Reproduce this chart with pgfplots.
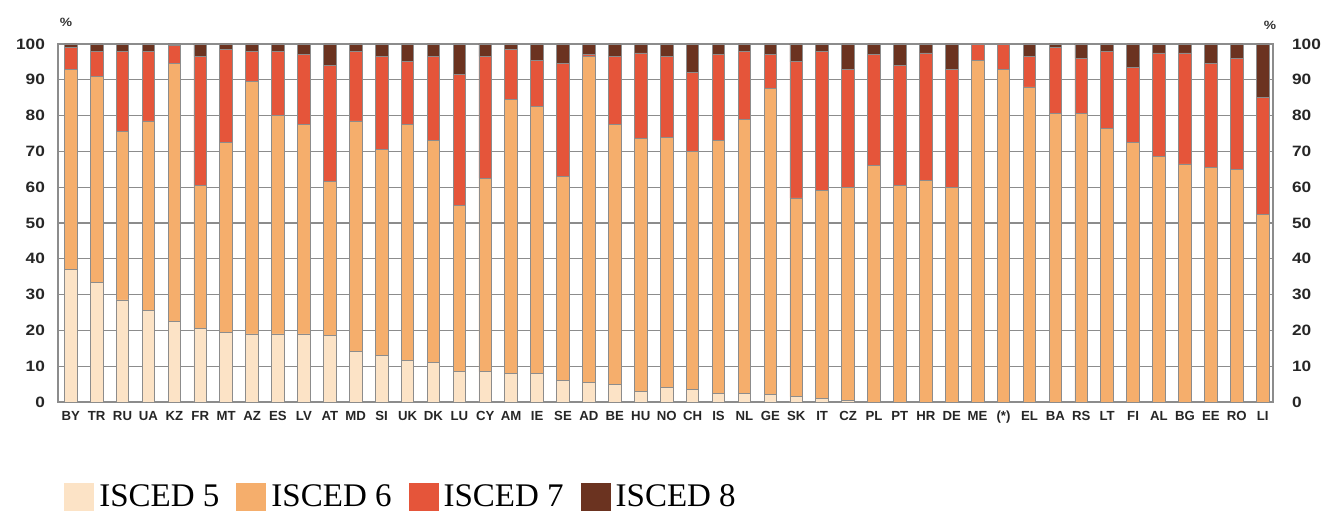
\documentclass[border=0pt]{standalone}
\usepackage{fontspec}
\setmainfont{Liberation Serif}
\newfontfamily\tickfont[FakeStretch=1.15]{Liberation Sans}
\newfontfamily\xtickfont{Liberation Sans}
\usepackage{pgfplots}
\usepackage{pgfplotstable}
\pgfplotsset{compat=1.18}

\definecolor{iscedA}{HTML}{FCE3C6}
\definecolor{iscedB}{HTML}{F5AE6C}
\definecolor{iscedC}{HTML}{E5553A}
\definecolor{iscedD}{HTML}{6B3320}
\definecolor{gridc}{HTML}{8C8C8C}

% share of graduates by ISCED level (%), cumulative 100
\pgfplotstableread{
idx lab c5 c6 c7 c8
0  BY 37 56 6 1
1  TR 33.5 57.5 7 2
2  RU 28.5 47 22.5 2
3  UA 25.5 53 19.5 2
4  KZ 22.5 72 5 0.5
5  FR 20.5 40 36 3.5
6  MT 19.5 53 26 1.5
7  AZ 19 70.5 8.5 2
8  ES 19 61 18 2
9  LV 19 58.5 19.5 3
10 AT 18.5 43 32.5 6
11 MD 14 64.5 19.5 2
12 SI 13 57.5 26 3.5
13 UK 11.5 66 17.5 5
14 DK 11 62 23.5 3.5
15 LU 8.5 46.5 36.5 8.5
16 CY 8.5 54 34 3.5
17 AM 8 76.5 14 1.5
18 IE 8 74.5 13 4.5
19 SE 6 57 31.5 5.5
20 AD 5.5 91 0.5 3
21 BE 5 72.5 19 3.5
22 HU 3 70.5 24 2.5
23 NO 4 70 22.5 3.5
24 CH 3.5 66.5 22 8
25 IS 2.5 70.5 24 3
26 NL 2.5 76.5 19 2
27 GE 2 85.5 9.5 3
28 SK 1.5 55.5 38 5
29 IT 1 58 39 2
30 CZ 0.5 59.5 33 7
31 PL 0 66 31 3
32 PT 0 60.5 33.5 6
33 HR 0 62 35.5 2.5
34 DE 0 60 33 7
35 ME 0 95.5 4.5 0
36 (*) 0 93 7 0
37 EL 0 88 8.5 3.5
38 BA 0 80.5 18.5 1
39 RS 0 80.5 15.5 4
40 LT 0 76.5 21.5 2
41 FI 0 72.5 21 6.5
42 AL 0 68.5 29 2.5
43 BG 0 66.5 31 2.5
44 EE 0 65.5 29 5.5
45 RO 0 65 31 4
46 LI 0 52.5 32.5 15
}\data

\begin{document}
\begin{tikzpicture}
\useasboundingbox (-29pt,-56pt) rectangle (632.5pt,201pt);
\begin{axis}[
  at={(0pt,0pt)}, anchor=south west,
  width=607.5pt, height=179pt, scale only axis,
  ybar stacked, bar width=6.3pt,
  xmin=-0.49, xmax=46.4,
  ymin=0, ymax=100,
  ytick={0,10,...,100},
  xtick=data,
  xticklabels from table={\data}{lab},
  ymajorgrids, grid style={gridc, line width=0.6pt},
  axis line style={gridc, line width=0.8pt},
  major tick length=0pt,
  yticklabel pos=left,
  /pgf/number format/assume math mode=true,
  yticklabel style={font=\tickfont\bfseries\fontsize{7.5}{8}\selectfont, text=black!85, xshift=-3pt},
  xticklabel style={font=\xtickfont\bfseries\fontsize{6.6}{7}\selectfont, text=black!85, yshift=-1pt},
  every axis plot/.append style={draw=gridc, line width=0.4pt},
  legend columns=4,
  legend style={draw=none, fill=none, inner sep=0pt,
    at={(rel axis cs:0,0)}, anchor=west, xshift=3pt, yshift=-47.5pt,
    font=\fontsize{16.5}{18}\selectfont,
    nodes={inner sep=2.5pt},
    /tikz/every even column/.append style={column sep=6pt}},
  legend image code/.code={\path[#1, draw=none] (0pt,-6.8pt) rectangle (15pt,6.8pt);},
]
\addplot[fill=iscedA] table[x=idx, y=c5] {\data};
\addplot[fill=iscedB] table[x=idx, y=c6] {\data};
\addplot[fill=iscedC] table[x=idx, y=c7] {\data};
\addplot[fill=iscedD] table[x=idx, y=c8] {\data};
\legend{ISCED 5, ISCED 6, ISCED 7, ISCED 8}
\end{axis}
% right-hand value axis labels
\begin{axis}[
  at={(0pt,0pt)}, anchor=south west,
  width=607.5pt, height=179pt, scale only axis,
  xmin=-0.49, xmax=46.4, ymin=0, ymax=100,
  ytick={0,10,...,100}, xtick=\empty,
  axis x line=none, axis y line*=right,
  y axis line style={draw=none},
  major tick length=0pt,
  /pgf/number format/assume math mode=true,
  yticklabel style={font=\tickfont\bfseries\fontsize{7.5}{8}\selectfont, text=black!85, xshift=6pt},
]
\addplot[draw=none] coordinates {(0,0)};
\end{axis}
\node[font=\tickfont\bfseries\fontsize{6}{7}\selectfont, text=black!80] at (4pt,190pt) {\%};
\node[font=\tickfont\bfseries\fontsize{6}{7}\selectfont, text=black!80] at (606pt,188.5pt) {\%};
\end{tikzpicture}
\end{document}
